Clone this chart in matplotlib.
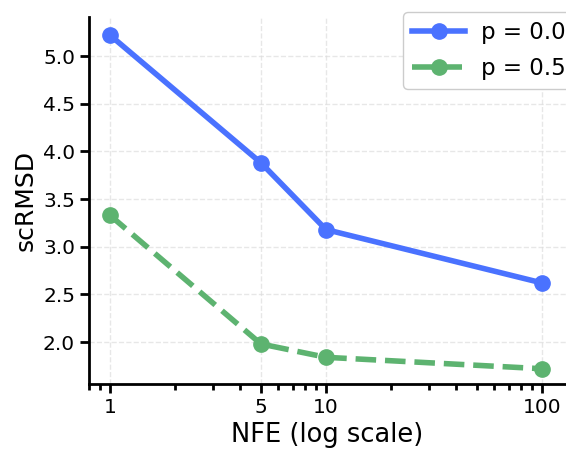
import matplotlib
matplotlib.use("Agg")
import matplotlib.pyplot as plt

# NFE steps and scRMSD for each p
nfe = [1, 5, 10, 100]
rmsd_p00 = [5.22, 3.88, 3.18, 2.62]
rmsd_p05 = [3.33, 1.98, 1.84, 1.72]
xticks = [1, 5, 10, 100]
yticks = [2.0, 2.5, 3.0, 3.5, 4.0, 4.5, 5.0]

fig = plt.figure(figsize=(5.66, 4.5), dpi=100)
ax = fig.add_axes([89/566, 66/450, 1 - 89/566, (384 - 17)/450])

ax.plot(nfe, rmsd_p00, "-o", color="#4A72FF", lw=4, ms=11, label="p = 0.0")
ax.plot(nfe, rmsd_p05, "--o", color="#5DB370", lw=4, ms=11, label="p = 0.5")

ax.set_xscale("log")
ax.set_xlim(0.8, 129)
ax.set_ylim(1.56, 5.41)
ax.set_xticks(xticks)
ax.set_xticklabels([str(t) for t in xticks])
ax.set_yticks(yticks)
ax.set_yticklabels([f"{t:.1f}" for t in yticks])

ax.grid(True, which="major", ls="--", color="#dddddd", lw=1, alpha=0.7)
ax.spines["top"].set_visible(False)
ax.spines["right"].set_visible(False)
ax.spines["left"].set_linewidth(2)
ax.spines["bottom"].set_linewidth(2)
ax.tick_params(axis="both", which="major", labelsize=14.5, length=6.5, width=2)
ax.tick_params(axis="x", which="minor", length=4, width=2)

ax.set_xlabel("NFE (log scale)", fontsize=18.5)
ax.set_ylabel("scRMSD", fontsize=18)

fig.legend(loc="upper left", bbox_to_anchor=(403/566, 1 - 12/450),
           fontsize=16.5, framealpha=1, handlelength=2.3, handletextpad=0.7,
           labelspacing=0.55, borderaxespad=0)

fig.savefig("out.png", dpi=100)
